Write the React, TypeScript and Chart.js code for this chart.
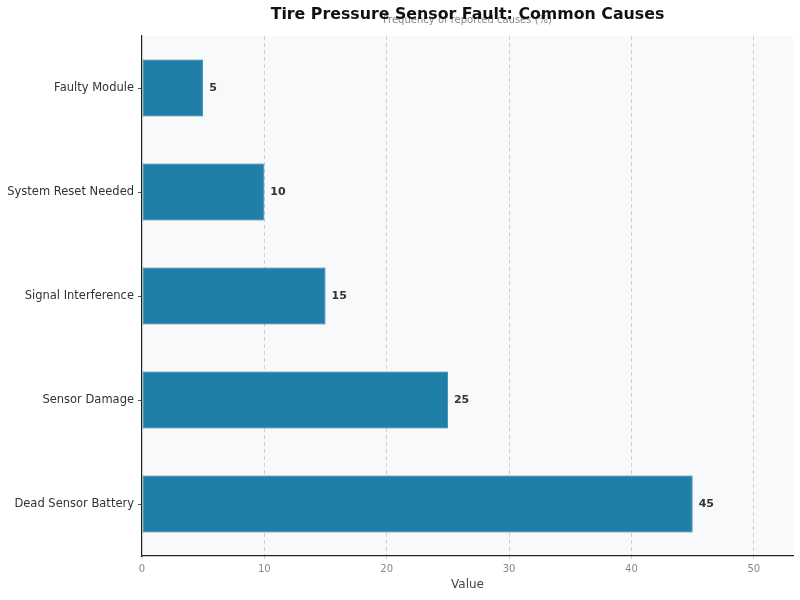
import React, { useRef, useEffect } from "react";
import { Chart, registerables, Plugin } from "chart.js";

Chart.register(...registerables);

const causes = [
  "Faulty Module",
  "System Reset Needed",
  "Signal Interference",
  "Sensor Damage",
  "Dead Sensor Battery",
];
const frequency = [5, 10, 15, 25, 45];
const titleText = "Tire Pressure Sensor Fault: Common Causes";
const subtitleText = "Frequency of reported causes (%)";
const xAxisTitle = "Value";
const xMax = 53.2;

const FONT = "'DejaVu Sans', sans-serif";

// plot background + titles + value labels
const decorations: Plugin<"bar"> = {
  id: "decorations",
  beforeDraw(chart) {
    const { ctx, chartArea } = chart;
    ctx.save();
    ctx.fillStyle = "#ffffff";
    ctx.fillRect(0, 0, chart.width, chart.height);
    ctx.fillStyle = "#f8f9fa";
    ctx.fillRect(chartArea.left, chartArea.top, chartArea.right - chartArea.left, chartArea.bottom - chartArea.top);
    ctx.restore();
  },
  afterDraw(chart) {
    const { ctx, chartArea } = chart;
    const cx = (chartArea.left + chartArea.right) / 2;
    ctx.save();
    ctx.textAlign = "center";
    ctx.textBaseline = "middle";
    ctx.fillStyle = "#888888";
    ctx.font = `10px ${FONT}`;
    ctx.fillText(subtitleText, cx, 20);
    ctx.fillStyle = "#111111";
    ctx.font = `bold 15.8px ${FONT}`;
    ctx.fillText(titleText, cx, 15);

    const meta = chart.getDatasetMeta(0);
    ctx.font = `bold 11px ${FONT}`;
    ctx.fillStyle = "#333333";
    ctx.textAlign = "left";
    meta.data.forEach((bar: any, i: number) => {
      ctx.fillText(String(frequency[i]), bar.x + 6, bar.y);
    });
    ctx.restore();
  },
};

const App: React.FC = () => {
  const canvasRef = useRef<HTMLCanvasElement | null>(null);

  useEffect(() => {
    if (!canvasRef.current) return;
    const chart = new Chart(canvasRef.current, {
      type: "bar",
      data: {
        labels: causes,
        datasets: [
          {
            data: frequency,
            backgroundColor: "#1f7fa6",
            borderColor: "#1b7398",
            borderWidth: 0.8,
            borderSkipped: false,
            categoryPercentage: 1,
            barPercentage: 0.55,
          },
        ],
      },
      options: {
        indexAxis: "y",
        animation: false,
        responsive: false,
        devicePixelRatio: 1,
        layout: { padding: { top: 36, right: 7, left: 0, bottom: 8 } },
        plugins: {
          legend: { display: false },
          title: { display: false },
          tooltip: { enabled: false },
        },
        scales: {
          x: {
            min: 0,
            max: xMax,
            ticks: {
              stepSize: 10,
              includeBounds: false,
              color: "#888888",
              font: { family: FONT, size: 10 },
              padding: 4,
            },
            grid: {
              color: (c: any) => (c.tick && c.tick.value === 0 ? "rgba(0,0,0,0)" : "#cfcfcf"),
              drawTicks: true,
              tickLength: 3,
              tickColor: "#cccccc",
            },
            border: { display: true, color: "#222222", width: 1.2, dash: [4, 3] },
            title: {
              display: true,
              text: xAxisTitle,
              color: "#444444",
              font: { family: FONT, size: 12 },
              padding: { top: 2, bottom: 0 },
            },
            afterFit(scale: any) {
              scale.height = 36;
            },
          },
          y: {
            ticks: {
              color: "#333333",
              font: { family: FONT, size: 11.5 },
              padding: 4,
            },
            grid: {
              offset: false,
              drawOnChartArea: false,
              drawTicks: true,
              tickLength: 4,
              tickColor: "#555555",
            },
            border: { display: true, color: "#222222", width: 1.2 },
            afterFit(scale: any) {
              scale.width = 142;
            },
          },
        },
      },
      plugins: [decorations],
    });
    return () => chart.destroy();
  }, []);

  return (
    <div style={{ position: "absolute", left: 0, top: 0, width: 800, height: 600 }}>
      <canvas ref={canvasRef} width={800} height={600} />
    </div>
  );
};

export default App;
